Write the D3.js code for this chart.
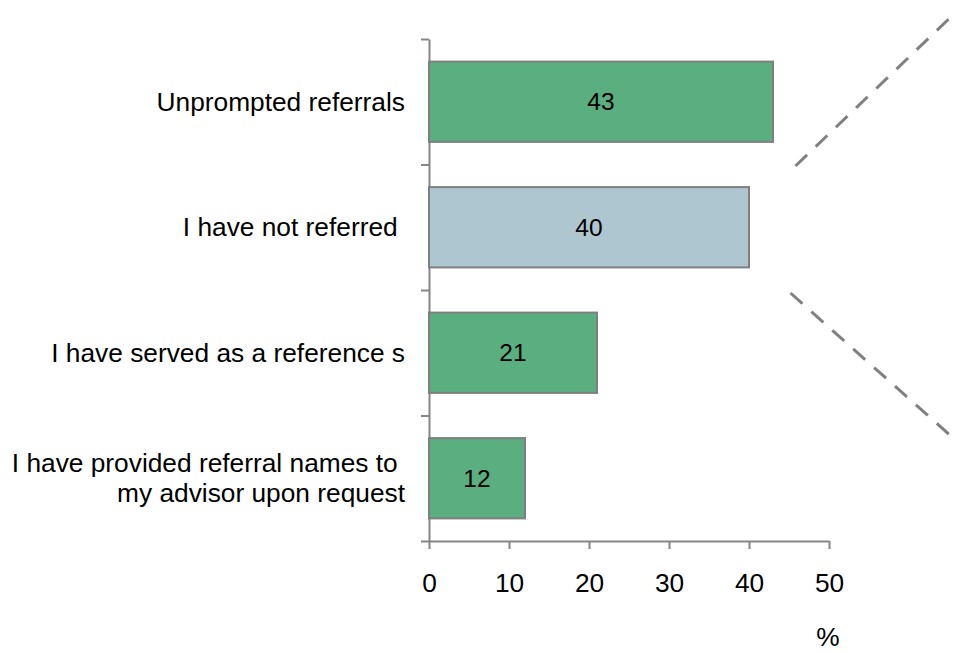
<!DOCTYPE html>
<html>
<head>
<meta charset="utf-8">
<script src="https://cdn.jsdelivr.net/npm/d3@7"></script>
<style>
  html, body { margin: 0; padding: 0; background: #ffffff; }
  svg { display: block; font-family: "Liberation Sans", Arial, Helvetica, sans-serif; }
  .cat { white-space: pre; }
</style>
</head>
<body>
<svg id="chart" width="956" height="652"></svg>
<script>
// Share of respondents (%) by referral behaviour
const categories = [
  ["Unprompted referrals"],
  ["I have not referred "],
  ["I have served as a reference s"],
  ["I have provided referral names to ", "my advisor upon request"]
];
const values = [43, 40, 21, 12];
const barKinds = ["primary", "muted", "primary", "primary"];
const xTicks = [0, 10, 20, 30, 40, 50];
const unitLabel = "%";

const fillFor = { primary: "#5aae80", muted: "#adc6d0" };
const axisGrey = "#868686";

const svg = d3.select("#chart");

const x = d3.scaleLinear().domain([0, 50]).range([429, 829]);
const keys = categories.map((c, i) => i);
const y = d3.scaleBand()
  .domain(keys)
  .range([39, 541])
  .paddingInner(0.36)
  .paddingOuter(0.18);

// Category boundary positions for the vertical axis ticks
const yEdges = d3.scaleLinear().domain([0, categories.length]).range([39, 541]);

// Vertical axis
const yAxis = svg.append("g")
  .attr("transform", `translate(${x(0)},0)`)
  .call(d3.axisLeft(yEdges)
    .tickValues(d3.range(categories.length + 1))
    .tickFormat("")
    .tickSize(8)
    .tickSizeOuter(0));
yAxis.selectAll("path, line").attr("stroke", axisGrey).attr("stroke-width", 2);

// Horizontal axis
const xAxis = svg.append("g")
  .attr("transform", `translate(0,${y.range()[1]})`)
  .call(d3.axisBottom(x)
    .tickValues(xTicks)
    .tickSize(8)
    .tickSizeOuter(0)
    .tickPadding(24));
xAxis.selectAll("path, line").attr("stroke", axisGrey).attr("stroke-width", 2);
xAxis.selectAll("text")
  .attr("fill", "#000")
  .style("font-size", "26.3px")
  .style("font-family", "'Liberation Sans', Arial, sans-serif");

// Bars
svg.append("g").selectAll("rect")
  .data(values)
  .join("rect")
  .attr("x", x(0))
  .attr("y", (d, i) => y(i))
  .attr("width", d => x(d) - x(0))
  .attr("height", y.bandwidth())
  .attr("fill", (d, i) => fillFor[barKinds[i]])
  .attr("stroke", "#7f7f7f")
  .attr("stroke-width", 2);

// Value labels inside bars
svg.append("g").selectAll("text")
  .data(values)
  .join("text")
  .attr("x", d => (x(0) + x(d)) / 2)
  .attr("y", (d, i) => y(i) + y.bandwidth() / 2)
  .attr("dy", "0.35em")
  .attr("text-anchor", "middle")
  .style("font-size", "24.5px")
  .attr("fill", "#000")
  .text(d => d3.format("d")(d));

// Category labels, right-aligned against the axis
const lineHeight = 30;
const catG = svg.append("g");
categories.forEach((lines, i) => {
  const cy = y(i) + y.bandwidth() / 2;
  const t = catG.append("text")
    .attr("class", "cat")
    .attr("text-anchor", "end")
    .style("font-size", "26.3px")
    .attr("fill", "#000");
  lines.forEach((ln, j) => {
    const offset = (j - (lines.length - 1) / 2) * lineHeight;
    t.append("tspan")
      .attr("x", x(0) - 24)
      .attr("y", cy + offset)
      .attr("dy", "0.35em")
      .text(ln);
  });
});

// Unit label under the axis end
svg.append("text")
  .attr("x", x(50) - 1)
  .attr("y", 646)
  .attr("text-anchor", "middle")
  .style("font-size", "26.3px")
  .attr("fill", "#000")
  .text(unitLabel);

// Dashed callout lines fanning out to the right of the bars
const connectors = [
  [[795.5, 166], [956, 12]],
  [[790.5, 293], [952, 437]]
];
const line = d3.line();
svg.append("g").selectAll("path")
  .data(connectors)
  .join("path")
  .attr("d", line)
  .attr("fill", "none")
  .attr("stroke", "#808080")
  .attr("stroke-width", 3)
  .attr("stroke-dasharray", "16 12");
</script>
</body>
</html>
